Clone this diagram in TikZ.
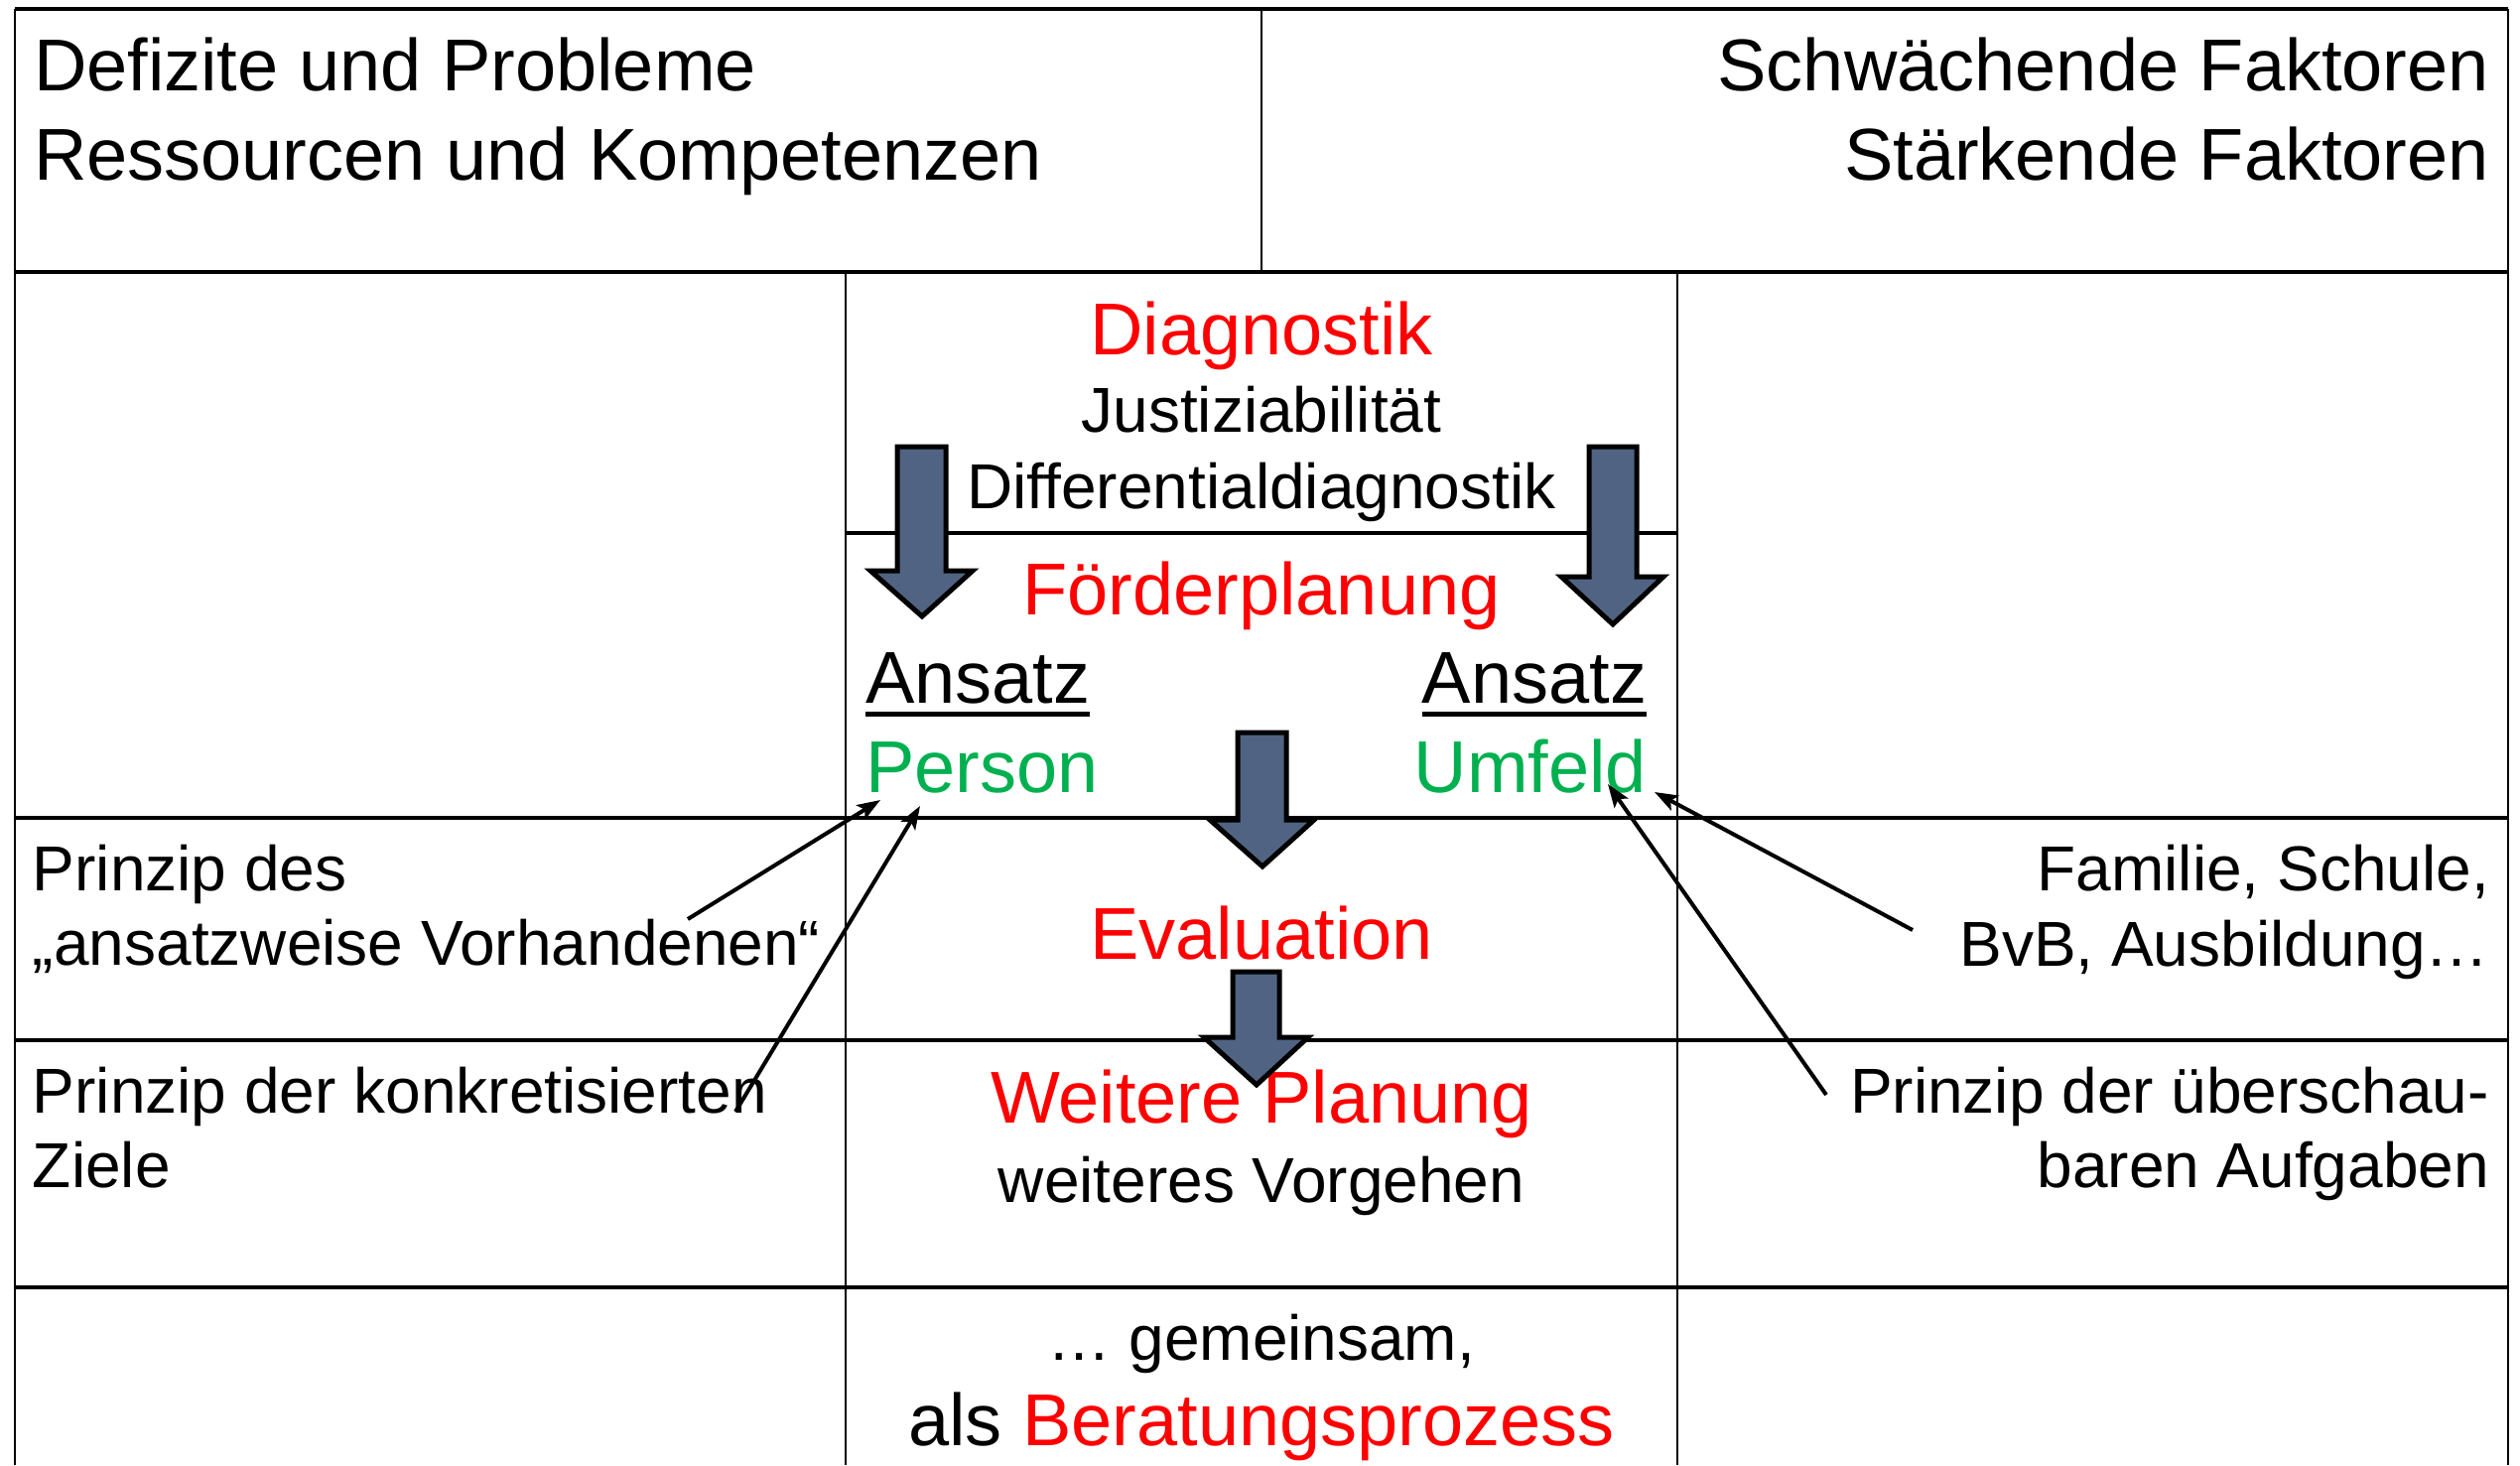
\documentclass[tikz,border=0pt]{standalone}
\usepackage{fontspec}
\setmainfont{Liberation Sans}
\usetikzlibrary{arrows.meta,calc}
\definecolor{slateblue}{RGB}{80,99,130}
\definecolor{hred}{RGB}{255,0,0}
\definecolor{hgreen}{RGB}{0,176,80}
\tikzset{
  gridh/.style={line width=1.1pt,black},
  gridv/.style={line width=0.8pt,black},
  big/.style={inner sep=0pt,outer sep=0pt,font=\fontsize{22.2pt}{27.3pt}\selectfont},
  small/.style={inner sep=0pt,outer sep=0pt,font=\fontsize{19.2pt}{22.5pt}\selectfont},
  blockarrow/.style={draw=black,line width=1.5pt,fill=slateblue,line join=miter},
  conn/.style={line width=1.2pt,-{Stealth[length=7pt,width=5pt,inset=1.5pt]}},
  uline/.style={line width=1.5pt}
}
\begin{document}
\begin{tikzpicture}[x=0.3pt,y=-0.3pt]
\fill[white] (0,0) rectangle (2539,1476);
\useasboundingbox (0,0) rectangle (2539,1476);
% grid
\draw[gridh] (15,9) -- (2527,9);
\draw[gridh] (15,274) -- (2527,274);
\draw[gridh] (15,824) -- (2527,824);
\draw[gridh] (15,1048) -- (2527,1048);
\draw[gridh] (15,1297) -- (2527,1297);
\draw[gridh] (852,537) -- (1690,537);
\draw[gridv] (15,9) -- (15,1476);
\draw[gridv] (2527,9) -- (2527,1476);
\draw[gridv] (1271,9) -- (1271,274);
\draw[gridv] (852,274) -- (852,1476);
\draw[gridv] (1690,274) -- (1690,1476);
% header texts
\node[big,anchor=base west] (hl1) at (34,91) {Defizite und Probleme};
\node[big,anchor=base west] (hl2) at (34,181) {Ressourcen und Kompetenzen};
\node[big,anchor=base east] (hr1) at (2508,91) {Schwächende Faktoren};
\node[big,anchor=base east] (hr2) at (2508,181) {Stärkende Faktoren};
% center column
\node[big,anchor=base,text=hred] (diag) at (1271,357) {Diagnostik};
\node[small,anchor=base] (just) at (1271,435) {Justiziabilität};
\node[small,anchor=base] (diff) at (1271,512) {Differentialdiagnostik};
\node[big,anchor=base,text=hred] (foerd) at (1271,619) {Förderplanung};
\node[big,anchor=base west] (ansL) at (872,708) {Ansatz};
\node[big,anchor=base west,text=hgreen] (pers) at (872,798) {Person};
\node[big,anchor=base east] (ansR) at (1659,708) {Ansatz};
\node[big,anchor=base east,text=hgreen] (umf) at (1659,798) {Umfeld};
\draw[uline] ($(ansL.base west)+(0,11)$) -- ($(ansL.base east)+(0,11)$);
\draw[uline] ($(ansR.base west)+(0,11)$) -- ($(ansR.base east)+(0,11)$);
\node[big,anchor=base,text=hred] (eval) at (1271,966) {Evaluation};
\node[big,anchor=base,text=hred] (weit) at (1271,1131) {Weitere Planung};
\node[small,anchor=base] (vorg) at (1271,1211) {weiteres Vorgehen};
\node[small,anchor=base] (gem) at (1271,1370) {… gemeinsam,};
\node[big,anchor=base] (bera) at (1271,1456) {als \textcolor{hred}{Beratungsprozess}};
% left column
\node[small,anchor=base west] (l1) at (33,897) {Prinzip des};
\node[small,anchor=base west] (l2) at (33,972) {„ansatzweise Vorhandenen“};
\node[small,anchor=base west] (l3) at (33,1121) {Prinzip der konkretisierten};
\node[small,anchor=base west] (l4) at (33,1196) {Ziele};
% right column
\node[small,anchor=base east] (r1) at (2508,897) {Familie, Schule,};
\node[small,anchor=base east] (r2) at (2508,973) {BvB, Ausbildung…};
\node[small,anchor=base east] (r3) at (2508,1121) {Prinzip der überschau-};
\node[small,anchor=base east] (r4) at (2508,1196) {baren Aufgaben};
% block arrows
\draw[blockarrow] (904,450) -- (953,450) -- (953,575) -- (980,575) -- (929,621) -- (877,575) -- (904,575) -- cycle;
\draw[blockarrow] (1601,450) -- (1649,450) -- (1649,581) -- (1676,581) -- (1625,629) -- (1573,581) -- (1601,581) -- cycle;
\draw[blockarrow] (1247,738) -- (1296,738) -- (1296,826) -- (1324,826) -- (1272,873) -- (1219,826) -- (1247,826) -- cycle;
\draw[blockarrow] (1242,979) -- (1289,979) -- (1289,1045) -- (1318,1045) -- (1266,1093) -- (1213,1045) -- (1242,1045) -- cycle;
% connectors
\coordinate (c1s) at (693,926);
\coordinate (c1e) at (887,806);
\coordinate (c2s) at (741,1120);
\coordinate (c2e) at (927,812);
\coordinate (c3s) at (1840,1103);
\coordinate (c3e) at (1620,790);
\coordinate (c4s) at (1927,937);
\coordinate (c4e) at (1667,798);
\draw[conn] (c1s) -- (c1e);
\draw[conn] (c2s) -- (c2e);
\draw[conn] (c3s) -- (c3e);
\draw[conn] (c4s) -- (c4e);
\end{tikzpicture}
\end{document}
